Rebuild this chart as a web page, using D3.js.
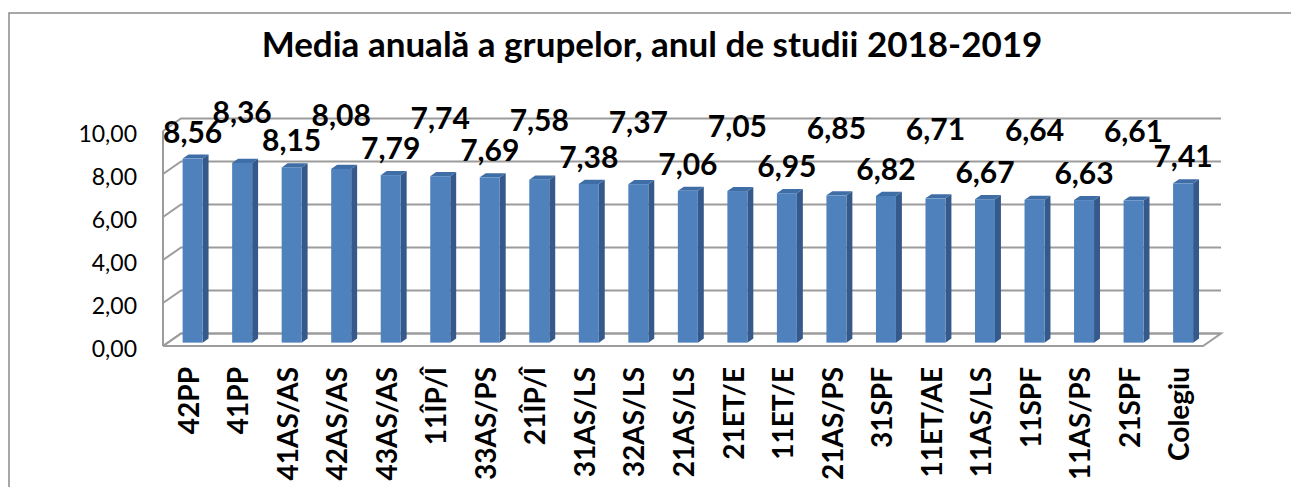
<!DOCTYPE html>
<html><head><meta charset="utf-8">
<script src="https://cdn.jsdelivr.net/npm/d3@7"></script>
<style>
html,body{margin:0;padding:0;background:#fff;overflow:hidden;}
svg{display:block;font-family:"Lato","Noto Sans",sans-serif;}
</style></head>
<body>
<svg id="chart" width="1291" height="487"></svg>
<script>
const titleText = "Media anuală a grupelor, anul de studii 2018-2019";
const categories = ["42PP","41PP","41AS/AS","42AS/AS","43AS/AS","11ÎP/Î","33AS/PS","21ÎP/Î","31AS/LS","32AS/LS","21AS/LS","21ET/E","11ET/E","21AS/PS","31SPF","11ET/AE","11AS/LS","11SPF","11AS/PS","21SPF","Colegiu"];
const values = [8.56,8.36,8.15,8.08,7.79,7.74,7.69,7.58,7.38,7.37,7.06,7.05,6.95,6.85,6.82,6.71,6.67,6.64,6.63,6.61,7.41];
const yTicks = [0,2,4,6,8,10];

const svg = d3.select("#chart");
const fmt = v => d3.format(".2f")(v).replace(".", ",");

// frame (top and left edges visible; rest is outside the picture)
svg.append("path").attr("d","M9,487 L9,13 L1291,13")
  .attr("fill","none").attr("stroke","#8a8a8a").attr("stroke-width",1.5);

// title
svg.append("text").attr("x",652).attr("y",57).attr("text-anchor","middle")
  .attr("font-size",35).attr("font-weight","bold").attr("fill","#000").text(titleText);

// 3D geometry
const left = 163, right = 1203, floorY = 346;
const DX = 18, DY = -12.5;
const x = d3.scaleBand().domain(categories).range([left, right]).padding(0);
const y = d3.scaleLinear().domain([0,10]).range([floorY, floorY - 215]);
const px = (xv, f) => xv + DX*f;
const py = (yv, f) => yv + DY*f;

const grid = svg.append("g").attr("stroke","#9c9c9c").attr("stroke-width",2).attr("fill","none");
grid.append("path").attr("d", d3.line()([[left,floorY],[right,floorY],[px(right,1),py(floorY,1)],[px(left,1),py(floorY,1)],[left,floorY]]));
grid.append("line").attr("x1",left).attr("x2",left).attr("y1",y(10)).attr("y2",floorY);
yTicks.forEach(t => {
  grid.append("path").attr("d", d3.line()([[left,y(t)],[px(left,1),py(y(t),1)],[px(right,1),py(y(t),1)]]));
});

// y labels
svg.append("g").selectAll("text").data(yTicks).join("text")
  .attr("x",137).attr("y",d=>y(d)+2).attr("text-anchor","end").attr("dominant-baseline","central")
  .attr("font-size",23).attr("fill","#000").text(d=>fmt(d));

// bars
const f0 = 0.27, f1 = 0.6, bw = 20;
const bars = svg.append("g");
values.forEach((v,i) => {
  const c = x(categories[i]) + x.bandwidth()/2;
  const x0 = px(c - bw/2, f0), x1 = x0 + bw;
  const yb = py(y(0), f0), yt = py(y(v), f0);
  const ddx = DX*(f1-f0), ddy = DY*(f1-f0);
  bars.append("path").attr("fill","#35598A")
    .attr("d", d3.line()([[x1,yb],[x1+ddx,yb+ddy],[x1+ddx,yt+ddy],[x1,yt]]));
  bars.append("path").attr("fill","#3F6DA6")
    .attr("d", d3.line()([[x0,yt],[x1,yt],[x1+ddx,yt+ddy],[x0+ddx,yt+ddy]]));
  bars.append("rect").attr("x",x0).attr("y",yt).attr("width",bw).attr("height",yb-yt).attr("fill","#4F81BD");
});

// data labels (alternating rows to avoid overlap)
svg.append("g").selectAll("text").data(values).join("text")
  .attr("x",(d,i)=>px(x(categories[i]) + x.bandwidth()/2, f0))
  .attr("y",(d,i)=>{ const top = py(y(d), f0); return (i%2===1 && i<values.length-1) ? (top+58.5)/2 : top-28; })
  .attr("text-anchor","middle").attr("dominant-baseline","central")
  .attr("font-size",30).attr("font-weight","bold").attr("fill","#000").text(d=>fmt(d));

// category labels
svg.append("g").selectAll("text").data(categories).join("text")
  .attr("transform",d=>`translate(${x(d)+x.bandwidth()/2},367) rotate(-90)`)
  .attr("text-anchor","end").attr("dominant-baseline","central")
  .attr("font-size",28).attr("font-weight","bold").attr("fill","#000").text(d=>d);
</script>
</body></html>
